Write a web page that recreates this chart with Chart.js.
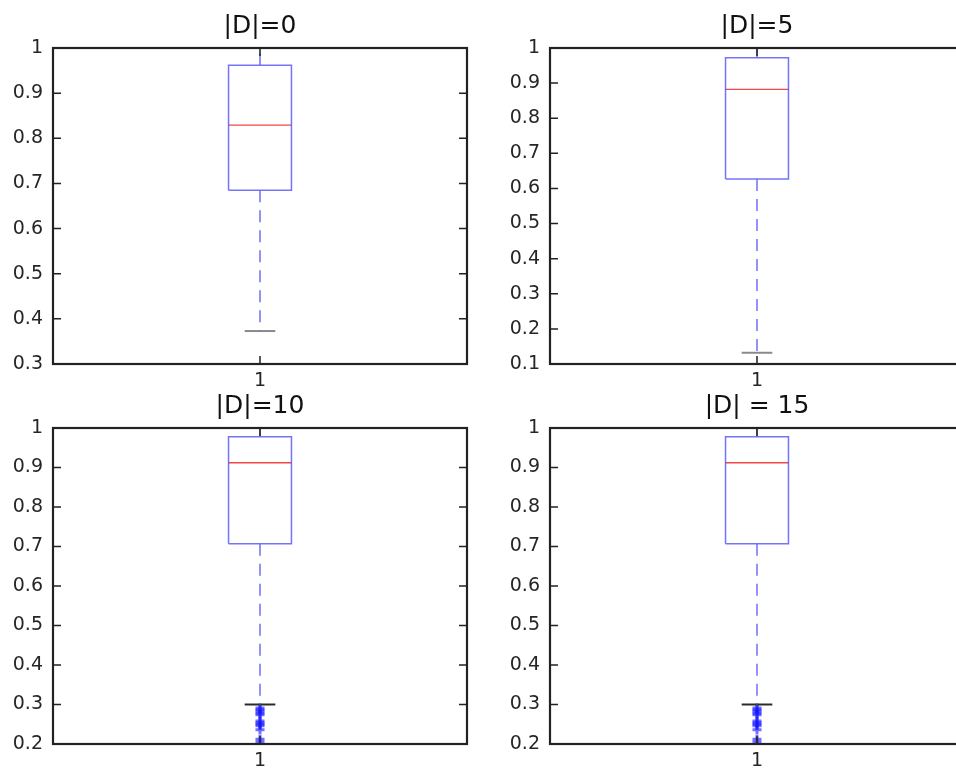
<!DOCTYPE html>
<html>
<head>
<meta charset="utf-8">
<script src="https://cdn.jsdelivr.net/npm/chart.js@4/dist/chart.umd.min.js"></script>
<style>
  html, body { margin: 0; padding: 0; background: #fff; overflow: hidden; width: 956px; height: 769px; }
  canvas { position: absolute; }
</style>
</head>
<body>
<canvas id="p0" width="480" height="390" style="left:0px;top:0px"></canvas>
<canvas id="p1" width="480" height="390" style="left:497px;top:0px"></canvas>
<canvas id="p2" width="480" height="390" style="left:0px;top:380px"></canvas>
<canvas id="p3" width="480" height="390" style="left:497px;top:380px"></canvas>
<script>
// one box per panel, MATLAB boxplot look
const panelTitles = ['|D|=0', '|D|=5', '|D|=10', '|D| = 15'];
const xTickLabels = ['1'];
const yMins = [0.3, 0.1, 0.2, 0.2];
const yMaxes = [1, 1, 1, 1];

const q1 = [0.685, 0.627, 0.707, 0.707];
const medians = [0.829, 0.882, 0.912, 0.912];
const q3 = [0.962, 0.972, 0.978, 0.978];
const whiskerLow = [0.373, 0.132, 0.300, 0.300];
const whiskerHigh = [1, 1, 1, 1];
const outliers = [
  [],
  [],
  [0.291, 0.287, 0.283, 0.278, 0.274, 0.258, 0.254, 0.250, 0.246, 0.236, 0.212, 0.205],
  [0.291, 0.287, 0.283, 0.278, 0.274, 0.258, 0.254, 0.250, 0.246, 0.236, 0.212, 0.205]
];
const capColors = ['#8a8a8a', '#8a8a8a', '#2b2b2b', '#2b2b2b'];

const BOX_HALF = 0.076;
const CAP_HALF = 0.037;
const FONT = 'DejaVu Sans';

// axes frame with inward ticks on all four sides
const matlabFrame = {
  id: 'matlabFrame',
  afterDraw(chart) {
    const { ctx, chartArea: a, scales } = chart;
    const tick = 8;
    ctx.save();
    ctx.strokeStyle = '#222';
    ctx.lineWidth = 1.5;
    ctx.beginPath();
    scales.y.ticks.forEach(t => {
      const y = scales.y.getPixelForValue(t.value);
      ctx.moveTo(a.left, y); ctx.lineTo(a.left + tick, y);
      ctx.moveTo(a.right, y); ctx.lineTo(a.right - tick, y);
    });
    scales.x.ticks.forEach(t => {
      const x = scales.x.getPixelForValue(t.value);
      ctx.moveTo(x, a.bottom); ctx.lineTo(x, a.bottom - tick);
      ctx.moveTo(x, a.top); ctx.lineTo(x, a.top + tick);
    });
    ctx.stroke();
    ctx.lineWidth = 2.2;
    ctx.strokeRect(a.left, a.top, a.right - a.left, a.bottom - a.top);
    ctx.restore();
  }
};

function seg(x0, y0, x1, y1) {
  return [{ x: x0, y: y0 }, { x: x1, y: y1 }];
}

function lineSet(data, color, width, dash) {
  return {
    type: 'line',
    data: data,
    borderColor: color,
    borderWidth: width,
    borderDash: dash || [],
    pointRadius: 0,
    fill: false,
    tension: 0
  };
}

function makePanel(i) {
  const c = 1;
  const datasets = [
    lineSet(seg(c, q1[i], c, whiskerLow[i]), 'rgba(100,100,245,0.7)', 2, [12, 8]),
    lineSet(seg(c, q3[i], c, whiskerHigh[i]), 'rgba(100,100,245,0.7)', 2, [12, 8]),
    lineSet([
      { x: c - BOX_HALF, y: q1[i] }, { x: c + BOX_HALF, y: q1[i] },
      { x: c + BOX_HALF, y: q3[i] }, { x: c - BOX_HALF, y: q3[i] },
      { x: c - BOX_HALF, y: q1[i] }
    ], 'rgba(70,70,245,0.75)', 1.5),
    lineSet(seg(c - BOX_HALF, medians[i], c + BOX_HALF, medians[i]), 'rgba(240,40,40,0.85)', 1.3),
    lineSet(seg(c - CAP_HALF, whiskerLow[i], c + CAP_HALF, whiskerLow[i]), capColors[i], 2),
    lineSet(seg(c - CAP_HALF, whiskerHigh[i], c + CAP_HALF, whiskerHigh[i]), capColors[i], 2),
    {
      type: 'scatter',
      data: outliers[i].map(v => ({ x: c, y: v })),
      pointStyle: 'cross',
      pointRadius: 4.5,
      pointBorderWidth: 3,
      borderColor: 'rgba(20,20,255,0.6)',
      backgroundColor: 'rgba(20,20,255,0.6)',
      showLine: false
    }
  ];

  new Chart(document.getElementById('p' + i), {
    type: 'line',
    data: { datasets: datasets },
    plugins: [matlabFrame],
    options: {
      responsive: false,
      animation: false,
      devicePixelRatio: 1,
      layout: { padding: { left: 0, right: 13, top: 0, bottom: 0 } },
      scales: {
        x: {
          type: 'linear',
          min: 0.5,
          max: 1.5,
          afterBuildTicks: axis => { axis.ticks = xTickLabels.map((t, k) => ({ value: k + 1 })); },
          afterFit: axis => { axis.height = 26; },
          ticks: {
            callback: v => xTickLabels[v - 1],
            font: { family: FONT, size: 19 },
            color: '#262626',
            padding: 6,
            maxRotation: 0
          },
          grid: { display: false, drawTicks: false },
          border: { display: false }
        },
        y: {
          min: yMins[i],
          max: yMaxes[i],
          afterFit: axis => { axis.width = 53; },
          ticks: {
            stepSize: 0.1,
            callback: v => String(Math.round(v * 10) / 10),
            font: { family: FONT, size: 19 },
            color: '#262626',
            padding: 10
          },
          grid: { display: false, drawTicks: false },
          border: { display: false }
        }
      },
      plugins: {
        legend: { display: false },
        tooltip: { enabled: false },
        title: {
          display: true,
          text: panelTitles[i],
          fullSize: false,
          color: '#111',
          font: { family: FONT, size: 25, weight: 'normal', lineHeight: 1.2 },
          padding: { top: 11, bottom: 7 }
        }
      }
    }
  });
}

for (let i = 0; i < panelTitles.length; i++) makePanel(i);
</script>
</body>
</html>
